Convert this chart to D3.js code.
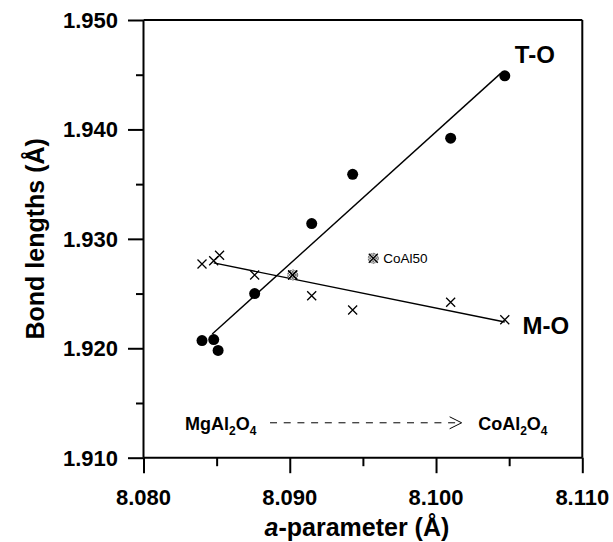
<!DOCTYPE html>
<html><head><meta charset="utf-8">
<script src="https://cdn.jsdelivr.net/npm/d3@7"></script>
<style>
body{margin:0;background:#fff}
text{font-family:"Liberation Sans",Arial,Helvetica,sans-serif}
</style>
</head><body>
<svg id="c" width="613" height="542"></svg>
<script>
// ---- data ----
const toA = [8.0840, 8.0848, 8.0851, 8.0876, 8.0915, 8.0943, 8.1010, 8.1047];
const toB = [1.9207, 1.9208, 1.9198, 1.9250, 1.9314, 1.9359, 1.9392, 1.9449];
const moA = [8.0840, 8.0848, 8.0852, 8.0876, 8.0902, 8.0915, 8.0943, 8.1010, 8.1047];
const moB = [1.9277, 1.9280, 1.9285, 1.9267, 1.9267, 1.9248, 1.9235, 1.9242, 1.9226];
const coal50A = [8.0902];
const coal50B = [1.9267];
const toFitA = [8.0847, 8.1044];
const toFitB = [1.9213, 1.9451];
const moFitA = [8.0848, 8.1047];
const moFitB = [1.9278, 1.9224];
const xTicks = [8.080, 8.090, 8.100, 8.110];
const xMinor = [8.085, 8.095, 8.105];
const yTicks = [1.910, 1.920, 1.930, 1.940, 1.950];
const yMinor = [1.915, 1.925, 1.935, 1.945];
const xDomain = [8.080, 8.110];
const yDomain = [1.910, 1.950];

// ---- layout ----
const L = 143.5, R = 582.3, T = 20, B = 457.7;
const svg = d3.select("#c");
const x = d3.scaleLinear().domain(xDomain).range([L, R]);
const y = d3.scaleLinear().domain(yDomain).range([B, T]);
const fmt = d3.format(".3f");

const defs = svg.append("defs");
const pat = defs.append("pattern").attr("id","hatch").attr("patternUnits","userSpaceOnUse")
  .attr("width",3).attr("height",3);
pat.append("rect").attr("width",3).attr("height",3).attr("fill","#fff");
pat.append("path").attr("d","M0,0L3,3M3,0L0,3").attr("stroke","#333").attr("stroke-width",0.7);

// frame (top / right)
svg.append("line").attr("x1",L).attr("x2",R).attr("y1",T).attr("y2",T).attr("stroke","#000").attr("stroke-width",2);
svg.append("line").attr("x1",R).attr("x2",R).attr("y1",T).attr("y2",B).attr("stroke","#000").attr("stroke-width",2);

// axes (tick lines from d3 axes)
function styleAxis(g){
  g.select(".domain").remove();
  g.selectAll(".tick line").attr("stroke","#000").attr("stroke-width",2);
  g.selectAll(".tick text").remove();
}
styleAxis(svg.append("g").attr("transform",`translate(0,${B})`)
  .call(d3.axisBottom(x).tickValues(xTicks).tickSize(15.5)));
styleAxis(svg.append("g").attr("transform",`translate(0,${B})`)
  .call(d3.axisBottom(x).tickValues(xMinor).tickSize(8.5)));
styleAxis(svg.append("g").attr("transform",`translate(${L},0)`)
  .call(d3.axisLeft(y).tickValues(yTicks).tickSize(15.5)));
styleAxis(svg.append("g").attr("transform",`translate(${L},0)`)
  .call(d3.axisLeft(y).tickValues(yMinor).tickSize(7.5)));
// tick labels
svg.append("g").selectAll("text").data(xTicks).join("text")
  .attr("x",d=>x(d)).attr("y",505).attr("text-anchor","middle")
  .attr("font-size",22).attr("font-weight","bold").text(fmt);
svg.append("g").selectAll("text").data(yTicks).join("text")
  .attr("x",L-25.5).attr("y",d=>y(d)+7.8).attr("text-anchor","end")
  .attr("font-size",22).attr("font-weight","bold").text(fmt);
// axis lines
svg.append("line").attr("x1",L).attr("x2",R).attr("y1",B).attr("y2",B).attr("stroke","#000").attr("stroke-width",2);
svg.append("line").attr("x1",L).attr("x2",L).attr("y1",T).attr("y2",B).attr("stroke","#000").attr("stroke-width",2);

// axis titles
const xt = svg.append("text").attr("x",(L+R)/2 - 6).attr("y",536).attr("text-anchor","middle")
  .attr("font-size",25).attr("font-weight","bold");
xt.append("tspan").attr("font-style","italic").text("a");
xt.append("tspan").text("-parameter (Å)");
svg.append("text").attr("transform",`translate(44,${(T+B)/2}) rotate(-90)`).attr("text-anchor","middle")
  .attr("font-size",25).attr("font-weight","bold").text("Bond lengths (Å)");

// fit lines
const line = d3.line().x(d=>x(d[0])).y(d=>y(d[1]));
svg.append("path").attr("d", line(d3.zip(toFitA,toFitB))).attr("fill","none").attr("stroke","#000").attr("stroke-width",1.4);
svg.append("path").attr("d", line(d3.zip(moFitA,moFitB))).attr("fill","none").attr("stroke","#000").attr("stroke-width",1.4);

const crossD = "M-4.5,-4.5L4.5,4.5M-4.5,4.5L4.5,-4.5";
// CoAl50 hatched marker
function hatchMarker(px,py){
  const g = svg.append("g").attr("transform",`translate(${px},${py})`);
  g.append("circle").attr("r",5).attr("fill","url(#hatch)").attr("stroke","#444").attr("stroke-width",0.8).attr("stroke-dasharray","2,1.2");
  g.append("path").attr("d",crossD).attr("stroke","#000").attr("stroke-width",1.3);
}
d3.zip(coal50A,coal50B).forEach(d=>hatchMarker(x(d[0]),y(d[1])));

// M-O crosses
svg.append("g").selectAll("path").data(d3.zip(moA,moB)).join("path")
  .attr("transform",d=>`translate(${x(d[0])},${y(d[1])})`).attr("d",crossD)
  .attr("stroke","#000").attr("stroke-width",1.3).attr("fill","none");
// T-O circles
svg.append("g").selectAll("circle").data(d3.zip(toA,toB)).join("circle")
  .attr("cx",d=>x(d[0])).attr("cy",d=>y(d[1])).attr("r",5.5).attr("fill","#000");

// labels
svg.append("text").attr("x",x(8.10539)).attr("y",y(1.94604)).attr("font-size",24).attr("font-weight","bold").text("T-O");
svg.append("text").attr("x",x(8.10592)).attr("y",y(1.92127)).attr("font-size",24).attr("font-weight","bold").text("M-O");

// CoAl50 legend marker + text
hatchMarker(x(8.09571), y(1.92822));
svg.append("text").attr("x",x(8.09571)+10).attr("y",y(1.92822)+5).attr("font-size",13.5).text("CoAl50");

// composition arrow annotation
const ay = y(1.91319);
function formula(xpos, parts){
  const t = svg.append("text").attr("x",xpos).attr("y",ay+7.5).attr("font-size",18).attr("font-weight","bold");
  parts.forEach(p=>{
    if(p.sub) t.append("tspan").attr("dy",5).attr("font-size",12).text(p.s);
    else t.append("tspan").attr("dy",p.back?-5:0).text(p.s);
  });
}
formula(x(8.08284), [{s:"MgAl"},{s:"2",sub:true},{s:"O",back:true},{s:"4",sub:true}]);
formula(x(8.10288), [{s:"CoAl"},{s:"2",sub:true},{s:"O",back:true},{s:"4",sub:true}]);
const ax1 = x(8.08865), ax2 = x(8.10175);
svg.append("line").attr("x1",ax1).attr("x2",ax2-2).attr("y1",ay).attr("y2",ay)
  .attr("stroke","#000").attr("stroke-width",1).attr("stroke-dasharray","7,6.7");
svg.append("path").attr("d",`M${ax2-12},${ay-6}L${ax2},${ay}L${ax2-12},${ay+6}`)
  .attr("fill","none").attr("stroke","#000").attr("stroke-width",1);
</script>
</body></html>
